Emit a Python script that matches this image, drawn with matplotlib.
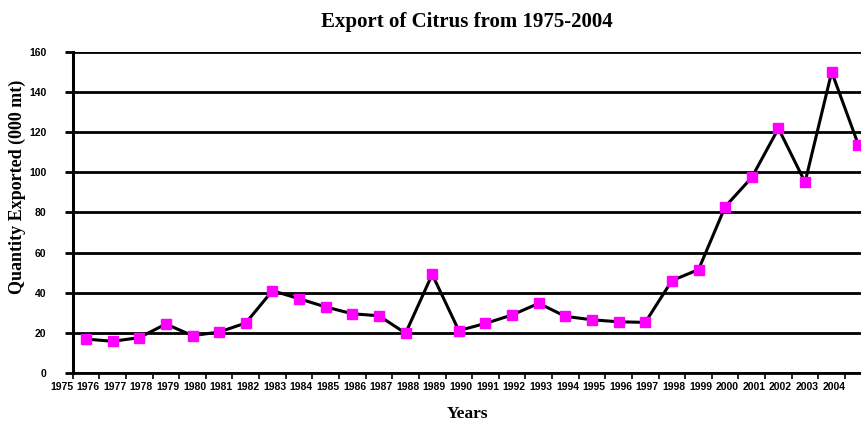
import matplotlib
matplotlib.use("Agg")
import matplotlib.pyplot as plt
import numpy as np

# Data (thousand metric tonnes)
years = list(range(1975, 2005))
exports = [16.9, 15.8, 17.6, 24.4, 18.6, 20.4, 24.9, 41.0, 37.0, 32.9,
           29.5, 28.5, 19.8, 49.1, 21.1, 24.7, 28.9, 34.7, 28.2, 26.5,
           25.5, 25.2, 46.0, 51.5, 82.8, 97.4, 121.8, 95.0, 149.9, 113.7]
y_ticks = [0, 20, 40, 60, 80, 100, 120, 140, 160]

serif = "Liberation Serif"
sans = "Liberation Sans"

fig = plt.figure(figsize=(8.61, 4.23), dpi=100)
ax = fig.add_axes([0.0844, 0.1182, 0.9156, 0.7596])

x = np.arange(len(exports))
ax.plot(x, exports, color="black", lw=2.2, marker="s", ms=7,
        mfc="#FF00FF", mec="#FF00FF", zorder=3)

# horizontal gridlines
ax.set_yticks(y_ticks)
ax.yaxis.grid(True, color="black", lw=2)
ax.set_axisbelow(True)

for side in ["top", "right"]:
    ax.spines[side].set_visible(False)
ax.spines["left"].set_linewidth(2.2)
ax.spines["bottom"].set_linewidth(2)

ax.tick_params(axis="y", length=6, width=2, pad=13)
for lbl in ax.get_yticklabels():
    lbl.set_fontfamily(sans)
    lbl.set_fontweight("bold")
    lbl.set_fontsize(7.5)

# category tick marks between points, year labels drawn as text
ax.set_xticks(np.arange(-0.5, 29, 1))
ax.set_xticklabels([])
ax.tick_params(axis="x", length=4, width=1.2)

# limits after the ticks so set_xticks doesn't widen them
ax.set_xlim(-0.5, 29.1)
ax.set_ylim(0, 160)

for i, yr in enumerate(years):
    ax.text(i - 1 + 0.08, -0.043, str(yr), transform=ax.get_xaxis_transform(),
            ha="center", va="center", fontsize=7.5, fontweight="bold",
            family=sans, clip_on=False)

fig.text(0.5424, 0.948, "Export of Citrus from 1975-2004", ha="center", va="center",
         fontsize=15, fontweight="bold", family=serif)
fig.text(0.5424, 0.022, "Years", ha="center", va="center",
         fontsize=12.5, fontweight="bold", family=serif)
fig.text(0.0203, 0.558, "Quantity Exported (000 mt)", ha="center", va="center",
         rotation=90, fontsize=13, fontweight="bold", family=serif)

fig.savefig("out.png", dpi=100)
